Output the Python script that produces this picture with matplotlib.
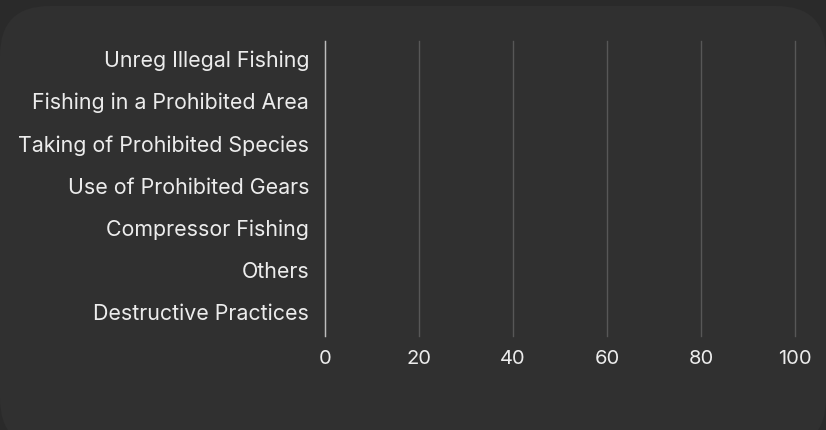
import matplotlib
matplotlib.use("Agg")
import matplotlib.pyplot as plt
import matplotlib.transforms as mtransforms
from matplotlib.patches import FancyBboxPatch

categories = ["Unreg Illegal Fishing", "Fishing in a Prohibited Area",
              "Taking of Prohibited Species", "Use of Prohibited Gears",
              "Compressor Fishing", "Others", "Destructive Practices"]
values = [0, 0, 0, 0, 0, 0, 0]
x_ticks = [0, 20, 40, 60, 80, 100]

W, H = 826, 430
fig = plt.figure(figsize=(W / 100, H / 100), dpi=100)
fig.patch.set_facecolor("#2a2a2a")

top = 1 - 6 / H
bottom = -18 / H
card = FancyBboxPatch((0, bottom), 1, top - bottom,
                      boxstyle="round,pad=0,rounding_size=0.06",
                      transform=fig.transFigure, facecolor="#303030",
                      edgecolor="none", mutation_aspect=W / H, zorder=-10)
fig.patches.append(card)

ax = fig.add_axes([325 / W, 1 - 336 / H, (795 - 325) / W, (336 - 41) / H])
ax.set_zorder(5)
ax.set_facecolor("none")
y = list(range(len(categories)))
ax.barh(y, values, color="#4e9af1", height=0.6)
ax.set_yticks(y)
ax.set_yticklabels(categories)
ax.set_ylim(len(categories) - 0.5, -0.5)
ax.set_xlim(0, 100)
ax.set_xticks(x_ticks)
ax.set_xticklabels([str(t) for t in x_ticks])

for s in ["top", "right", "bottom"]:
    ax.spines[s].set_visible(False)
ax.spines["left"].set_color("#bdbdbd")
ax.spines["left"].set_linewidth(1.0)
ax.grid(axis="x", color="#575757", linewidth=1.0)
for gl in ax.get_xgridlines():
    gl.set_clip_on(False)
ax.set_axisbelow(True)
ax.tick_params(axis="y", length=0, pad=11.5, labelcolor="#ececec", labelsize=15.4)
ax.tick_params(axis="x", length=0, pad=10, labelcolor="#ececec", labelsize=14.5)
for lab in ax.get_yticklabels() + ax.get_xticklabels():
    lab.set_family(["Inter", "DejaVu Sans"])
shift = mtransforms.ScaledTranslation(0, 3 / 100, fig.dpi_scale_trans)
for lab in ax.get_yticklabels():
    lab.set_transform(lab.get_transform() + shift)

fig.savefig("out.png", dpi=100, facecolor=fig.get_facecolor())
